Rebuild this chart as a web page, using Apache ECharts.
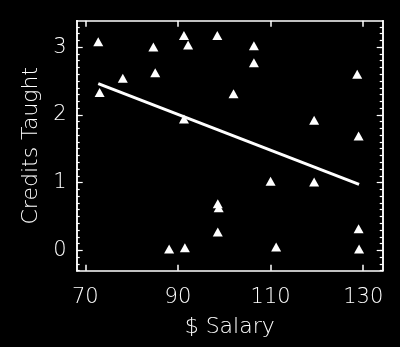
<!DOCTYPE html>
<html><head><meta charset="utf-8">
<script src="https://cdn.jsdelivr.net/npm/echarts@6/dist/echarts.min.js"></script>
<style>html,body{margin:0;padding:0;background:#000;}#c{width:400px;height:347px;}</style>
</head><body><div id="c"></div>
<script>
// Data
const salary = [72.8, 73.1, 78.1, 84.7, 85.1, 91.3, 92.2, 91.3, 98.5, 106.4, 106.4, 102.0, 128.7, 119.4, 129.0, 110.0, 119.4, 129.0, 129.1, 111.2, 98.6, 98.8, 98.6, 88.1, 91.5];
const credits = [3.08, 2.33, 2.54, 3.00, 2.62, 3.17, 3.03, 1.94, 3.17, 3.02, 2.77, 2.31, 2.60, 1.92, 1.69, 1.02, 1.01, 0.32, 0.02, 0.05, 0.69, 0.63, 0.27, 0.02, 0.04];
const fitX = [72.8, 129.1];
const fitY = [2.46, 0.975];
const xTicks = [70, 90, 110, 130];
const yTicks = [0, 1, 2, 3];

const xMin = 68.15, xMax = 134.2, yMin = -0.3, yMax = 3.39;
const yMinor = [];
for (let v = -3; v <= 33; v++) yMinor.push(Math.round(v) / 10);

const FONT = 'DejaVu Sans';
const COL = '#ffffff';
const chart = echarts.init(document.getElementById('c'));
const pts = salary.map((x, i) => [x, credits[i]]);
const fit = fitX.map((x, i) => [x, fitY[i]]);

function xAx(pos, labels) {
  return {
    type: 'value', position: pos, min: xMin, max: xMax,
    axisLine: {show: true, onZero: false, lineStyle: {color: COL, width: 1.5}},
    axisTick: {show: true, inside: true, length: 6, customValues: xTicks, lineStyle: {color: COL, width: 1.5}},
    axisLabel: labels ? {show: true, customValues: xTicks, color: COL, fontFamily: FONT, fontWeight: 200, fontSize: 21, margin: 16} : {show: false},
    splitLine: {show: false},
    name: labels ? '$ Salary' : '', nameLocation: 'middle', nameGap: 46,
    nameTextStyle: {color: COL, fontFamily: FONT, fontWeight: 200, fontSize: 22}
  };
}
function yAx(pos, major, labels) {
  return {
    type: 'value', position: pos, min: yMin, max: yMax, offset: 0,
    axisLine: {show: true, onZero: false, lineStyle: {color: COL, width: 1.5}},
    axisTick: {show: true, inside: true, length: major ? 6 : 3, customValues: major ? yTicks : yMinor, lineStyle: {color: COL, width: 1.2}},
    axisLabel: labels ? {show: true, customValues: yTicks, color: COL, fontFamily: FONT, fontWeight: 200, fontSize: 21, margin: 10} : {show: false},
    splitLine: {show: false},
    name: labels ? 'Credits Taught' : '', nameLocation: 'middle', nameGap: 34,
    nameTextStyle: {color: COL, fontFamily: FONT, fontWeight: 200, fontSize: 22}
  };
}

chart.setOption({
  backgroundColor: '#000',
  animation: false,
  grid: {left: 76.7, right: 17.3, top: 20.7, bottom: 76.3, containLabel: false},
  xAxis: [xAx('bottom', true), xAx('top', false)],
  yAxis: [yAx('left', true, true), yAx('left', false, false), yAx('right', true, false), yAx('right', false, false)],
  series: [
    {type: 'scatter', xAxisIndex: 0, yAxisIndex: 0, data: pts, symbol: 'triangle', symbolSize: [10, 9],
     itemStyle: {color: '#fff', opacity: 1}},
    {type: 'line', xAxisIndex: 0, yAxisIndex: 0, data: fit, symbol: 'none',
     lineStyle: {color: '#fff', width: 3}}
  ]
});
</script></body></html>
